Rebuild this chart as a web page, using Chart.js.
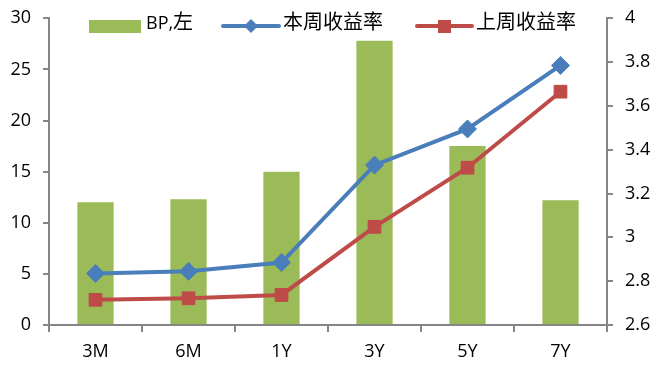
<!DOCTYPE html>
<html>
<head>
<meta charset="utf-8">
<script src="https://cdn.jsdelivr.net/npm/chart.js@4"></script>
<style>
  html, body { margin: 0; padding: 0; background: #fff; }
  #wrap { width: 656px; height: 365px; }
</style>
</head>
<body>
<div id="wrap"><canvas id="grafico"></canvas></div>
<script>
const categorias = ['3M', '6M', '1Y', '3Y', '5Y', '7Y'];
const bp = [12, 12.3, 15, 27.8, 17.5, 12.2];
const rendaSemana = [2.835, 2.845, 2.885, 3.33, 3.495, 3.785];
const rendaAnterior = [2.715, 2.722, 2.737, 3.048, 3.318, 3.665];
const nomes = ['BP,左', '本周收益率', '上周收益率'];

const fonte = '"Open Sans", "Noto Sans CJK SC", sans-serif';
const cinza = '#868686';
const verde = '#9BBB59';
const azul = '#4A7EBB';
const vermelho = '#BE4B48';

// legenda desenhada dentro do grafico, como no original
const legenda = {
    id: 'legenda',
    afterDraw(chart) {
        const c = chart.ctx;
        const y = 26;
        c.save();
        c.font = '20px ' + fonte;
        c.textBaseline = 'middle';

        c.fillStyle = verde;
        c.fillRect(89, y - 6, 52, 13);
        c.fillStyle = '#000';
        c.font = '18px ' + fonte;
        c.fillText('BP,', 146, y - 2);
        const w = c.measureText('BP,').width;
        c.font = '20px ' + fonte;
        c.fillText('左', 146 + w, y - 3);

        c.strokeStyle = azul;
        c.lineWidth = 4;
        c.lineCap = 'round';
        c.beginPath(); c.moveTo(223, y); c.lineTo(279, y); c.stroke();
        c.fillStyle = azul;
        c.beginPath();
        c.moveTo(251, y - 7); c.lineTo(258, y); c.lineTo(251, y + 7); c.lineTo(244, y);
        c.closePath(); c.fill();
        c.fillStyle = '#000';
        c.fillText(nomes[1], 283, y - 3);

        c.strokeStyle = vermelho;
        c.beginPath(); c.moveTo(417, y); c.lineTo(472, y); c.stroke();
        c.fillStyle = vermelho;
        c.fillRect(438, y - 6, 13, 13);
        c.fillStyle = '#000';
        c.fillText(nomes[2], 476, y - 3);
        c.restore();
    }
};

new Chart(document.getElementById('grafico'), {
    data: {
        labels: categorias,
        datasets: [
            {
                type: 'line',
                label: nomes[1],
                data: rendaSemana,
                yAxisID: 'y1',
                borderColor: azul,
                backgroundColor: azul,
                borderWidth: 4,
                pointStyle: 'rectRot',
                pointRadius: 9,
                pointHoverRadius: 9,
                pointBorderWidth: 1,
                order: 1
            },
            {
                type: 'line',
                label: nomes[2],
                data: rendaAnterior,
                yAxisID: 'y1',
                borderColor: vermelho,
                backgroundColor: vermelho,
                borderWidth: 4,
                pointStyle: 'rect',
                pointRadius: 9,
                pointHoverRadius: 9,
                pointBorderWidth: 1,
                order: 0
            },
            {
                type: 'bar',
                label: nomes[0],
                data: bp,
                yAxisID: 'y',
                backgroundColor: verde,
                categoryPercentage: 1,
                barPercentage: 0.39,
                order: 2
            }
        ]
    },
    options: {
        responsive: true,
        maintainAspectRatio: false,
        animation: false,
        layout: { padding: { top: 0, right: 0, left: 0, bottom: 0 } },
        plugins: {
            legend: { display: false },
            tooltip: { enabled: false }
        },
        scales: {
            x: {
                offset: true,
                grid: { display: true, drawOnChartArea: false, offset: true, color: cinza, lineWidth: 2, tickLength: 7 },
                border: { color: cinza, width: 2 },
                ticks: { color: '#000', font: { family: fonte, size: 18 }, padding: 9 },
                afterFit(scale) { scale.height = 40; }
            },
            y: {
                position: 'left',
                min: 0,
                max: 30,
                ticks: { stepSize: 5, color: '#000', font: { family: fonte, size: 18, lineHeight: 0.7 }, padding: 12 },
                grid: { drawOnChartArea: false, color: cinza, lineWidth: 2, tickLength: 6 },
                border: { color: cinza, width: 2 },
                afterFit(scale) { scale.width = 49; }
            },
            y1: {
                position: 'right',
                min: 2.6,
                max: 4,
                ticks: { stepSize: 0.2, color: '#000', font: { family: fonte, size: 18, lineHeight: 0.7 }, padding: 12,
                    callback: v => Math.round(v * 10) / 10 },
                grid: { drawOnChartArea: false, color: cinza, lineWidth: 2, tickLength: 6 },
                border: { color: cinza, width: 2 },
                afterFit(scale) { scale.width = 49; }
            }
        }
    },
    plugins: [legenda]
});
</script>
</body>
</html>
